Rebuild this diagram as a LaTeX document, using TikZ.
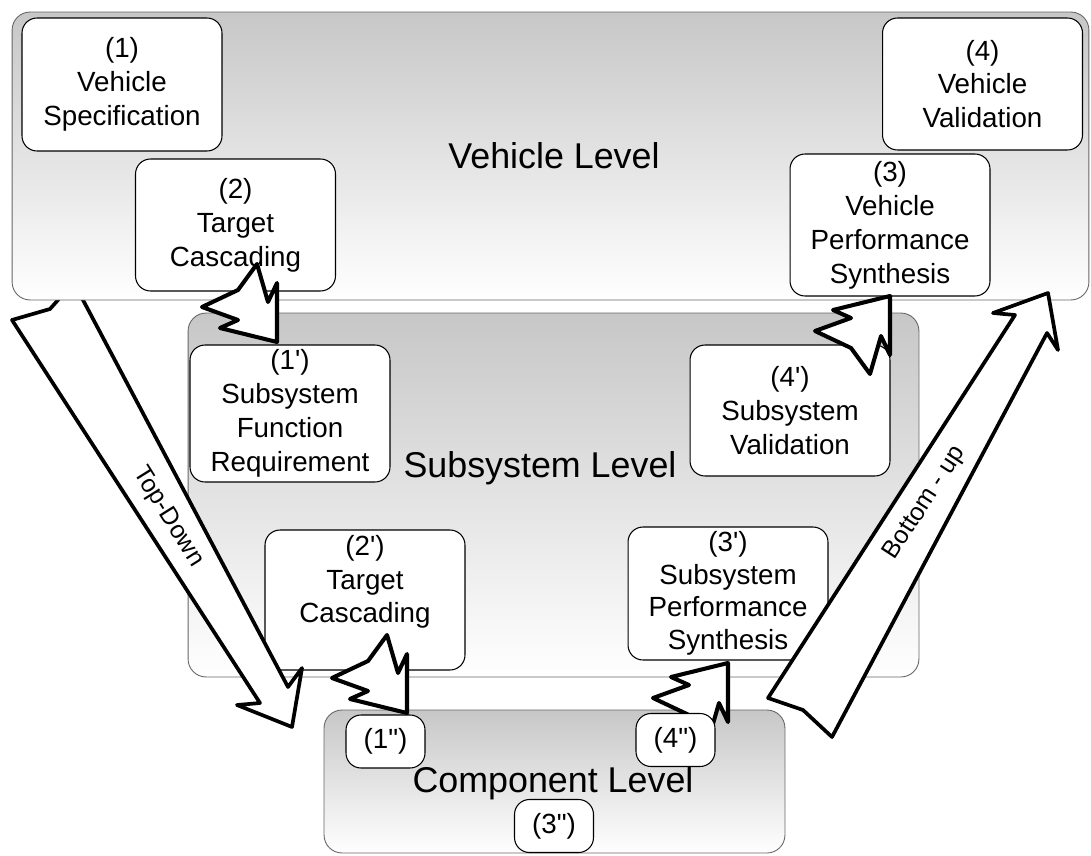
\documentclass[tikz,border=0pt]{standalone}
\usepackage{fontspec}
\setmainfont{Liberation Sans}[Ligatures=TeXOff]
\tikzset{zig/.pic={\draw[zigline] (0,0) -- (-57,-14) -- (-39,-22) -- (-75,-35) -- (-39,-52) -- (-20,-78) -- (-9,-40) -- (0,-59) -- cycle;}}

\begin{document}
\begin{tikzpicture}[x=0.02cm, y=-0.02cm] %V-Modell
	\tikzstyle{level} = [draw=black!60, line width=0.5pt, rounded corners=0.36cm, top color=black!22, bottom color=white, inner sep=0pt]
	\tikzstyle{levelname} = [anchor=base, font=\fontsize{20.4}{24}\selectfont]
	\tikzstyle{stage} = [draw, line width=0.6pt, rounded corners=0.3cm, fill=white, align=center, minimum width=4cm, inner sep=2pt, font=\fontsize{15.8}{19.3}\selectfont]
	\tikzstyle{part} = [stage, minimum width=1.58cm, minimum height=1.06cm]
	\tikzstyle{zigline} = [draw, fill=white, line width=2.3pt, line join=round]
	\tikzstyle{bigarrow} = [draw, fill=white, line width=2.1pt, line join=round]
	\tikzstyle{arrowtext} = [font=\fontsize{14.2}{17}\selectfont]
	\useasboundingbox (0,0) rectangle (1091,855);
	% subsystem level
	\node[level, minimum width=14.62cm, minimum height=7.28cm] (S) at (553.5,495) {};
	\node[levelname] (Sl) at (540,477) {Subsystem Level};
	\node[stage, minimum height=2.74cm] (s1) at (290,413.5) {(1')\\Subsystem\\Function\\Requirement};
	\node[stage, minimum height=2.8cm, text depth=0.84cm] (s2) at (365,600) {(2')\\Target\\Cascading};
	\node[stage, minimum height=2.66cm, font=\fontsize{15.8}{18.5}\selectfont] (s3) at (728,593.5) {(3')\\Subsystem\\Performance\\Synthesis};
	\node[stage, minimum height=2.62cm] (s4) at (790,410.5) {(4')\\Subsystem\\Validation};
	% component level
	\node[level, minimum width=9.22cm, minimum height=2.86cm] (C) at (554.5,781.5) {};
	\pic[yscale=-1] (z3) at (728,663) {zig};
	\node[levelname] (Cl) at (553,792) {Component Level};
	\node[part] (c1) at (385.5,741.5) {(1")};
	\node[part] (c4) at (675.5,740) {(4")};
	\node[part] (c3) at (554,826) {(3")};
	% top-down
	\draw[bigarrow] (12,320) -- (50,309) -- (58,300) -- (62,285) -- (76,285) -- (83,300) -- (288,687) -- (302,668) -- (292,727) -- (237,705) -- (260,703) -- cycle;
	\node[arrowtext, rotate=-58] (td) at (168,517) {Top-Down};
	% vehicle level
	\node[level, minimum width=21.54cm, minimum height=5.76cm] (V) at (550.5,156) {};
	\node[levelname] (Vl) at (554,168) {Vehicle Level};
	\node[stage, minimum height=2.66cm] (v1) at (122,84.5) {(1)\\Vehicle\\Specification};
	\node[stage, minimum height=2.64cm] (v2) at (235.5,225) {(2)\\Target\\Cascading};
	\node[stage, minimum height=2.84cm] (v3) at (890,225) {(3)\\Vehicle\\Performance\\Synthesis};
	\node[stage, minimum height=2.64cm] (v4) at (982.5,84) {(4)\\Vehicle\\Validation};
	% cascading / synthesis steps
	\pic (z1) at (277,342) {zig};
	\pic (z2) at (407,713) {zig};
	\pic[yscale=-1] (z4) at (890,296) {zig};
	% bottom-up
	\draw[bigarrow] (768,698) -- (1015,315) -- (993,313) -- (1048,293) -- (1058,350) -- (1047,333) -- (832,737) -- (803,710) -- cycle;
	\node[arrowtext, rotate=57] (bu) at (925,503) {Bottom - up};
\end{tikzpicture}
\end{document}
